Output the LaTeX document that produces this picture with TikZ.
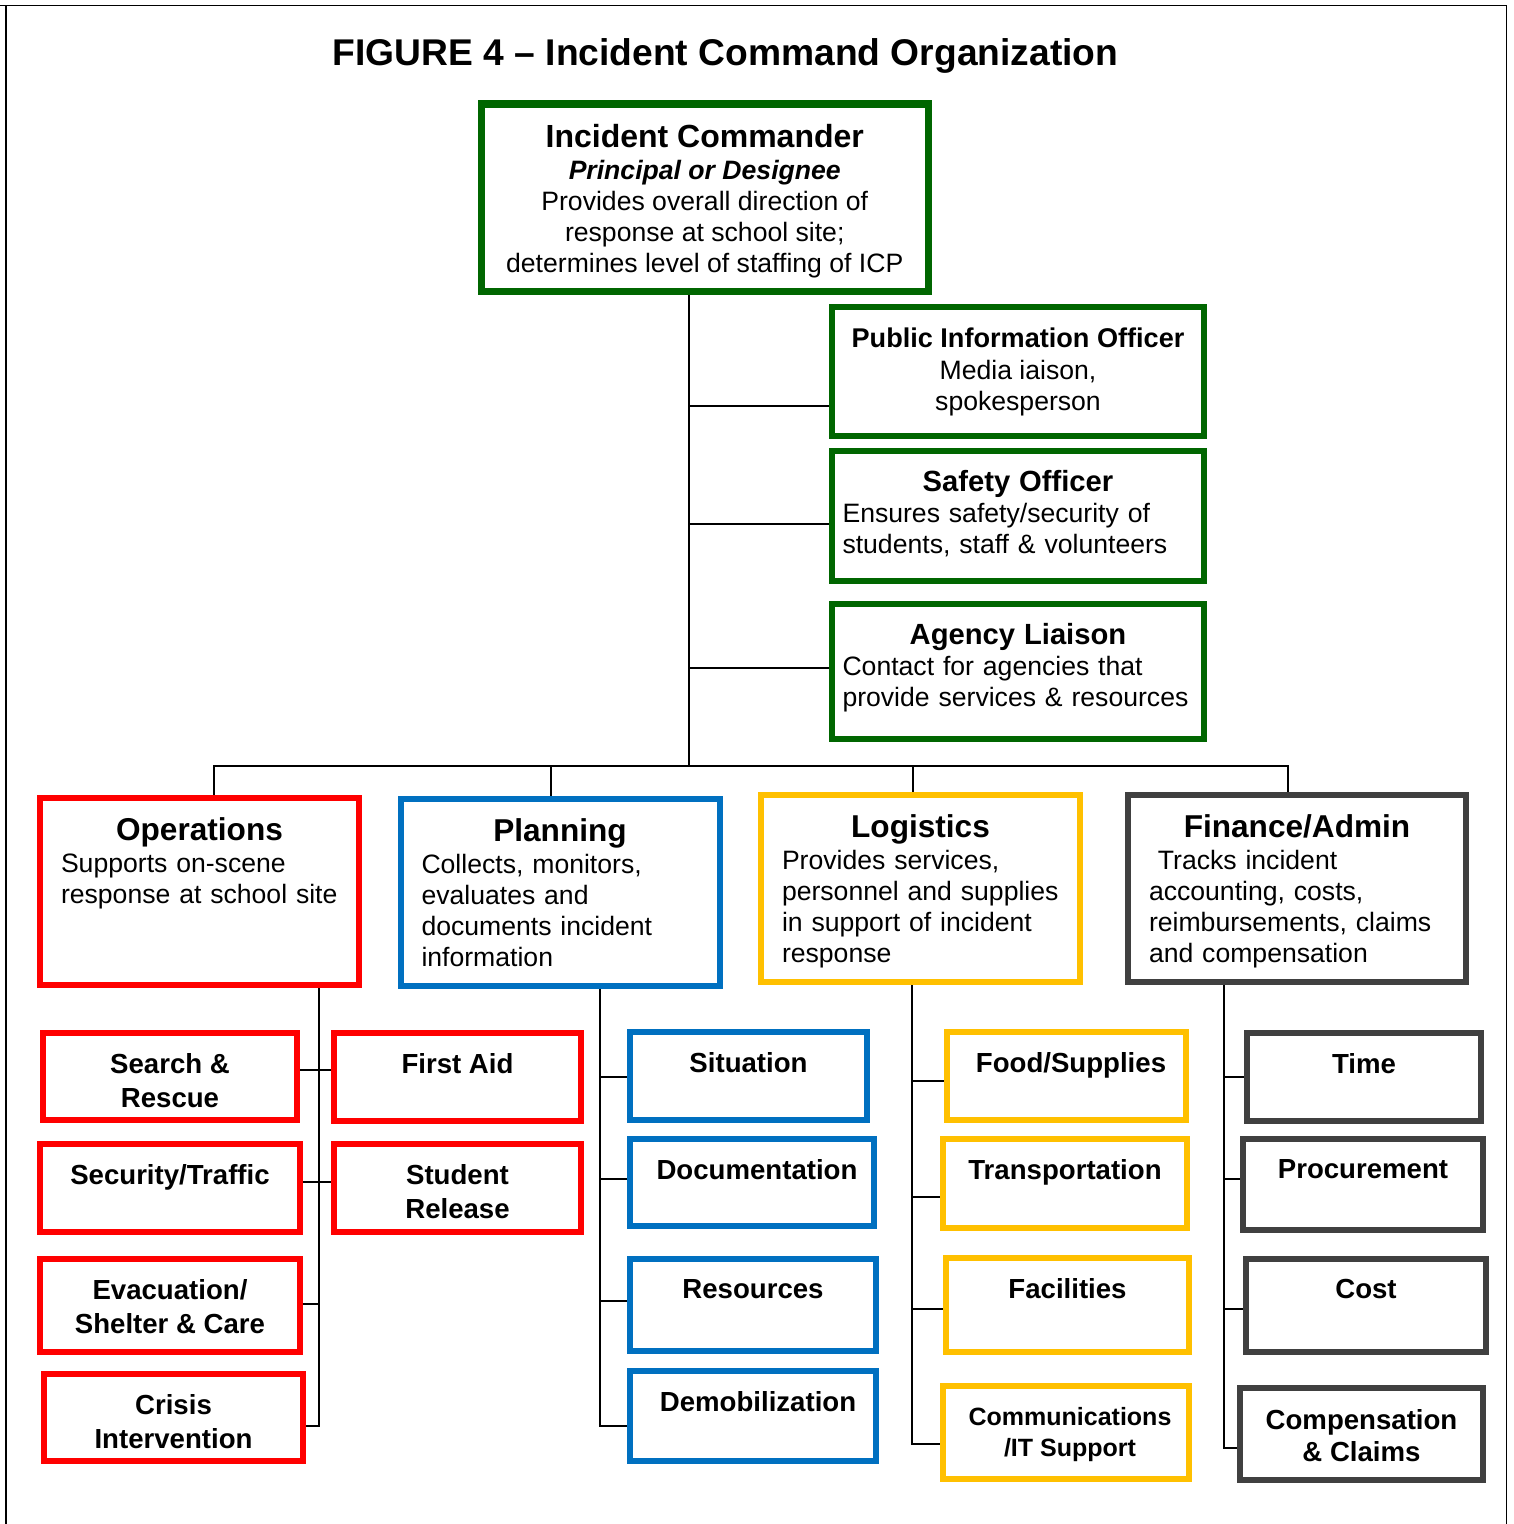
\documentclass[tikz,border=0pt]{standalone}
\usepackage{fontspec}
\setmainfont{Liberation Sans}
\usepackage{tikz}
\usetikzlibrary{positioning, backgrounds}
\setlength{\parindent}{0pt}
\definecolor{icsGreen}{RGB}{0, 102, 0}
\definecolor{icsRed}{RGB}{255, 0, 0}
\definecolor{icsBlue}{RGB}{0, 112, 192}
\definecolor{icsGold}{RGB}{255, 192, 0}
\definecolor{icsGray}{RGB}{64, 64, 64}

\begin{document}
\begin{tikzpicture}[x=1pt, y=-1pt]
        \tikzstyle{box} = [rectangle, draw, line width=6pt, inner sep=0pt, outer sep=0pt]
        \tikzstyle{cmdbox} = [box, draw=icsGreen]
        \tikzstyle{opsbox} = [box, draw=icsRed]
        \tikzstyle{planbox} = [box, draw=icsBlue]
        \tikzstyle{logbox} = [box, draw=icsGold]
        \tikzstyle{finbox} = [box, draw=icsGray]
        \tikzstyle{head} = [anchor=north, inner sep=0pt, align=center, font=\fontsize{26.6}{31}\selectfont]
        \tikzstyle{sect} = [anchor=north, inner sep=0pt, align=left, font=\fontsize{26.6}{31}\selectfont]
        \tikzstyle{sub} = [anchor=north, inner sep=0pt, align=center, font=\fontsize{27.6}{34}\selectfont\bfseries]
        \tikzstyle{link} = [line width=2pt]

        \useasboundingbox (0,0) rectangle (1514,1524);
        \draw[line width=1.5pt] (0,5.5) -- (1506.5,5.5) -- (1506.5,1524);
        \draw[line width=1.5pt] (6,5.5) -- (6,1524);

        \node[anchor=north, inner sep=0pt, font=\fontsize{37.2}{40}\selectfont\bfseries] (title) at (725.5,38.7) {FIGURE 4 – Incident Command Organization};

        % command staff
        \node[cmdbox, line width=7.5pt, minimum width=447, minimum height=187.5] (ic) at (704.75,197.5) {};
        \node[head] (ic-t) at ([yshift=-20.8]ic.north) {{\fontsize{32}{31}\selectfont\bfseries Incident Commander}\\[1pt]
            {\bfseries\itshape Principal or Designee}\\
            Provides overall direction of\\
            response at school site;\\
            determines level of staffing of ICP};

        \node[cmdbox, minimum width=372, minimum height=129] (pio) at (1018,371.5) {};
        \node[head] (pio-t) at ([yshift=-20.3]pio.north) {{\fontsize{27.1}{31}\selectfont\bfseries Public Information Officer}\\[1pt]
            Media iaison,\\
            spokesperson};

        \node[cmdbox, minimum width=372, minimum height=130] (safety) at (1018,516) {};
        \node[sect, text width=351] (safety-t) at ([yshift=-19.5]safety.north) {\null\hfill{\fontsize{29.2}{31}\selectfont\bfseries Safety Officer}\hfill\null\\
            Ensures safety/security of\\
            students, staff \& volunteers};

        \node[cmdbox, minimum width=372, minimum height=135] (agency) at (1018,671.5) {};
        \node[sect, text width=351] (agency-t) at ([yshift=-19.5]agency.north) {\null\hfill{\fontsize{29.2}{31}\selectfont\bfseries Agency Liaison}\hfill\null\\
            Contact for agencies that\\
            provide services \& resources};

        % sections
        \node[opsbox, minimum width=319, minimum height=187] (ops) at (199.5,891.5) {};
        \node[sect, text width=277] (ops-t) at ([yshift=-19.7]ops.north) {\null\hfill{\fontsize{31.6}{31}\selectfont\bfseries Operations}\hfill\null\\[1pt]
            Supports on-scene\\
            response at school site};

        \node[planbox, minimum width=319, minimum height=187] (plan) at (560,892.5) {};
        \node[sect, text width=277] (plan-t) at ([yshift=-19.7]plan.north) {\null\hfill{\fontsize{31.6}{31}\selectfont\bfseries Planning}\hfill\null\\[1pt]
            Collects, monitors,\\
            evaluates and\\
            documents incident\\
            information};

        \node[logbox, minimum width=319, minimum height=187] (log) at (920.5,888.5) {};
        \node[sect, text width=277] (log-t) at ([yshift=-19.7]log.north) {\null\hfill{\fontsize{31.6}{31}\selectfont\bfseries Logistics}\hfill\null\\[1pt]
            Provides services,\\
            personnel and supplies\\
            in support of incident\\
            response};

        \node[finbox, minimum width=338, minimum height=187] (fin) at (1297,888.5) {};
        \node[sect, text width=296] (fin-t) at ([yshift=-19.7]fin.north) {\null\hfill{\fontsize{31.6}{31}\selectfont\bfseries Finance/Admin}\hfill\null\\[1pt]
            \ Tracks incident\\
            accounting, costs,\\
            reimbursements, claims\\
            and compensation};

        % operations units
        \node[opsbox, minimum width=254, minimum height=87] (sar) at (170,1076.5) {};
        \node[sub] (sar-t) at ([yshift=-20]sar.north) {Search \&\\Rescue};
        \node[opsbox, minimum width=247, minimum height=88] (fa) at (457.5,1077) {};
        \node[sub] (fa-t) at ([yshift=-20]fa.north) {First Aid};
        \node[opsbox, minimum width=260, minimum height=88] (sec) at (170,1188) {};
        \node[sub] (sec-t) at ([yshift=-20]sec.north) {Security/Traffic};
        \node[opsbox, minimum width=247, minimum height=88] (sr) at (457.5,1188) {};
        \node[sub] (sr-t) at ([yshift=-20]sr.north) {Student\\Release};
        \node[opsbox, minimum width=260, minimum height=93] (evac) at (170,1305.5) {};
        \node[sub] (evac-t) at ([yshift=-20]evac.north) {Evacuation/\\Shelter \& Care};
        \node[opsbox, minimum width=259, minimum height=87] (crisis) at (173.5,1417.5) {};
        \node[sub] (crisis-t) at ([yshift=-20]crisis.north) {Crisis\\Intervention};

        % planning units
        \node[planbox, minimum width=237, minimum height=88] (sit) at (748.5,1076) {};
        \node[sub] (sit-t) at ([yshift=-20]sit.north) {Situation};
        \node[planbox, minimum width=244, minimum height=87] (doc) at (752,1182.5) {};
        \node[sub] (doc-t) at ([yshift=-20, xshift=5]doc.north) {Documentation};
        \node[planbox, minimum width=246, minimum height=92] (res) at (753,1305) {};
        \node[sub] (res-t) at ([yshift=-20]res.north) {Resources};
        \node[planbox, minimum width=246, minimum height=90] (demob) at (753,1416) {};
        \node[sub] (demob-t) at ([yshift=-20, xshift=5]demob.north) {Demobilization};

        % logistics units
        \node[logbox, minimum width=239, minimum height=88] (food) at (1066.5,1076) {};
        \node[sub] (food-t) at ([yshift=-20, xshift=4.5]food.north) {Food/Supplies};
        \node[logbox, minimum width=244, minimum height=89] (trans) at (1065,1183.5) {};
        \node[sub] (trans-t) at ([yshift=-20]trans.north) {Transportation};
        \node[logbox, minimum width=243, minimum height=94] (fac) at (1067.5,1305) {};
        \node[sub] (fac-t) at ([yshift=-20]fac.north) {Facilities};
        \node[logbox, minimum width=246, minimum height=93] (comms) at (1066,1432.5) {};
        \node[sub, font=\fontsize{25}{31}\selectfont\bfseries] (comms-t) at ([yshift=-21.5, xshift=4]comms.north) {Communications\\/IT Support};

        % finance units
        \node[finbox, minimum width=234, minimum height=88] (time) at (1364,1077) {};
        \node[sub] (time-t) at ([yshift=-20]time.north) {Time};
        \node[finbox, minimum width=240, minimum height=91] (proc) at (1363,1184.5) {};
        \node[sub] (proc-t) at ([yshift=-20]proc.north) {Procurement};
        \node[finbox, minimum width=240, minimum height=93] (cost) at (1366,1305.5) {};
        \node[sub] (cost-t) at ([yshift=-20]cost.north) {Cost};
        \node[finbox, minimum width=243, minimum height=92] (comp) at (1361.5,1434) {};
        \node[sub, font=\fontsize{27.6}{32}\selectfont\bfseries] (comp-t) at ([yshift=-21]comp.north) {Compensation\\\& Claims};

        \begin{scope}[on background layer]
            \coordinate (trunk) at (688.5,765.7);
            \draw[link] (ic.south -| trunk) -- (trunk);
            \draw[link] ([yshift=-34.5]pio.west) -- ([yshift=-34.5]pio.west -| trunk);
            \draw[link] ([yshift=-8.3]safety.west) -- ([yshift=-8.3]safety.west -| trunk);
            \draw[link] ([yshift=3.2]agency.west) -- ([yshift=3.2]agency.west -| trunk);
            \draw[link] ([xshift=14.8]ops.north) |- ([xshift=-9]fin.north |- trunk) -- ([xshift=-9]fin.north);
            \draw[link] ([xshift=-9.3]plan.north) -- ([xshift=-9.3]plan.north |- trunk);
            \draw[link] ([xshift=-7.5]log.north) -- ([xshift=-7.5]log.north |- trunk);

            \coordinate (opsEnd) at (319,1426);
            \draw[link] (ops.south -| opsEnd) |- (crisis.east |- opsEnd);
            \draw[link] ([yshift=6.5]sar.east) -- ([yshift=6.5]sar.east -| fa.west);
            \draw[link] ([yshift=6]sec.east) -- ([yshift=6]sec.east -| sr.west);
            \draw[link] ([yshift=1.5]evac.east) -- ([yshift=1.5]evac.east -| opsEnd);

            \coordinate (planEnd) at (599.6,1426);
            \draw[link] (plan.south -| planEnd) |- (demob.west |- planEnd);
            \draw[link] ([yshift=-1]sit.west) -- ([yshift=-1]sit.west -| planEnd);
            \draw[link] ([yshift=3.5]doc.west) -- ([yshift=3.5]doc.west -| planEnd);
            \draw[link] ([yshift=4]res.west) -- ([yshift=4]res.west -| planEnd);

            \coordinate (logEnd) at (912,1444);
            \draw[link] (log.south -| logEnd) |- (comms.west |- logEnd);
            \draw[link] ([yshift=-5]food.west) -- ([yshift=-5]food.west -| logEnd);
            \draw[link] ([yshift=-13.5]trans.west) -- ([yshift=-13.5]trans.west -| logEnd);
            \draw[link] ([yshift=-4]fac.west) -- ([yshift=-4]fac.west -| logEnd);

            \coordinate (finEnd) at (1224,1448);
            \draw[link] (fin.south -| finEnd) |- (comp.west |- finEnd);
            \draw[link] (time.west) -- (time.west -| finEnd);
            \draw[link] ([yshift=5.5]proc.west) -- ([yshift=5.5]proc.west -| finEnd);
            \draw[link] ([yshift=-3.5]cost.west) -- ([yshift=-3.5]cost.west -| finEnd);
        \end{scope}
    \end{tikzpicture}
\end{document}
